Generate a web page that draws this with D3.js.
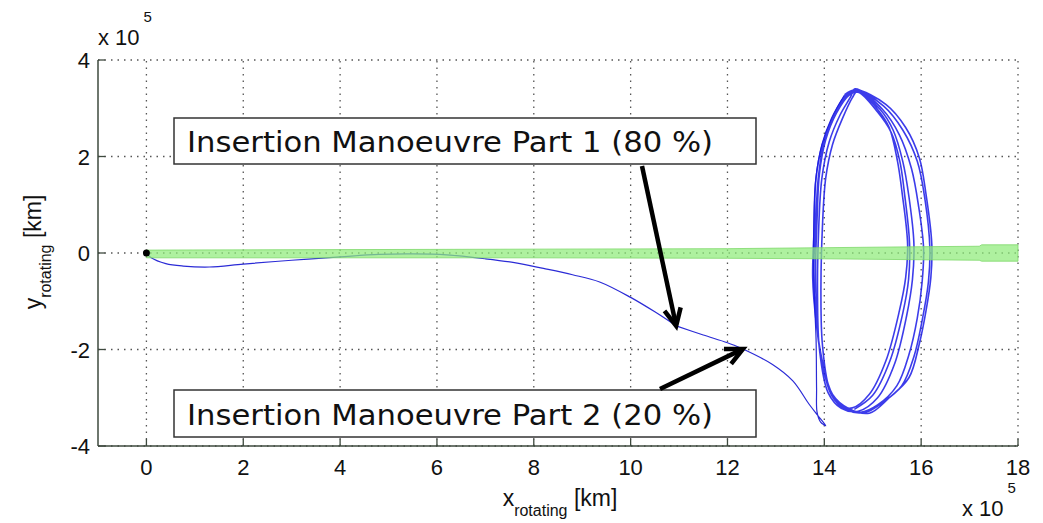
<!DOCTYPE html>
<html>
<head>
<meta charset="utf-8">
<script src="https://cdn.jsdelivr.net/npm/d3@7"></script>
<style>
  body { margin: 0; background: #fff; }
  svg { display: block; }
</style>
</head>
<body>
<svg id="chart"></svg>
<script>
const width = 1043;
const height = 523;

// tick values (units of 10^5 km)
const xTicks = [0, 2, 4, 6, 8, 10, 12, 14, 16, 18];
const yTicks = [-4, -2, 0, 2, 4];

// green band (corridor) along y = 0
const bandX = [0, 4, 8, 12, 14, 16, 17.2, 17.25, 18];
const bandTop = [0.06, 0.07, 0.08, 0.09, 0.11, 0.13, 0.14, 0.17, 0.17];
const bandBottom = [-0.10, -0.10, -0.10, -0.11, -0.12, -0.14, -0.15, -0.17, -0.17];

// transfer trajectory, split at the two manoeuvres
const coast1 = [[0, 0], [0.1, -0.1], [0.4, -0.22], [0.76, -0.27], [1.3, -0.29], [2.0, -0.23], [3.0, -0.15], [4.0, -0.08],
    [4.8, -0.03], [5.5, -0.02], [6.2, -0.04], [7.0, -0.12], [7.6, -0.2], [8.2, -0.32], [8.8, -0.45], [9.36, -0.6],
    [10.0, -0.92], [10.5, -1.22], [10.94, -1.51]];
const coast2 = [[10.94, -1.51], [11.5, -1.7], [12.0, -1.86], [12.32, -1.99]];
const coast3 = [[12.32, -1.99], [12.93, -2.31], [13.35, -2.65], [13.69, -3.14], [13.9, -3.41], [14.03, -3.58],
    [13.92, -3.5], [13.85, -3.3], [13.84, -2.8], [13.83, -1.8], [13.79, -0.8], [13.78, 0.4], [13.82, 1.5],
    [13.95, 2.25], [14.15, 2.8], [14.42, 3.28]];

// halo orbit revolutions (clockwise, starting at the top)
const loop1 = [[14.65, 3.38], [15.27, 3.08], [15.68, 2.60], [15.96, 1.98], [16.10, 1.22], [16.22, 0.18], [16.20, -0.51],
    [16.10, -1.20], [15.96, -1.89], [15.75, -2.58], [15.34, -3.00], [14.93, -3.32], [14.50, -3.22], [14.17, -2.93],
    [13.96, -2.24], [13.83, -1.41], [13.76, -0.51], [13.79, 0.52], [13.83, 1.56], [13.96, 2.25], [14.17, 2.80], [14.45, 3.27]];
const loop2 = [[14.70, 3.36], [15.20, 2.98], [15.55, 2.45], [15.80, 1.75], [15.95, 0.95], [16.05, 0.10], [16.02, -0.60],
    [15.92, -1.35], [15.75, -2.10], [15.50, -2.75], [15.10, -3.15], [14.75, -3.30], [14.40, -3.20], [14.12, -2.85],
    [13.92, -2.10], [13.84, -1.20], [13.82, -0.30], [13.85, 0.70], [13.90, 1.65], [14.03, 2.35], [14.25, 2.90], [14.52, 3.28]];
const loop3 = [[14.72, 3.34], [15.13, 2.94], [15.34, 2.60], [15.51, 1.91], [15.61, 1.22], [15.72, 0.18], [15.68, -0.51],
    [15.55, -1.20], [15.27, -2.24], [14.93, -2.93], [14.58, -3.21], [14.31, -3.14], [14.10, -2.79], [13.96, -1.89],
    [13.93, -0.86], [13.96, 0.52], [14.03, 1.56], [14.17, 2.25], [14.38, 2.80], [14.58, 3.22]];
const loop4 = [[14.68, 3.35], [15.15, 2.98], [15.42, 2.55], [15.62, 1.90], [15.75, 1.15], [15.85, 0.20], [15.82, -0.55],
    [15.70, -1.30], [15.45, -2.30], [15.10, -3.00], [14.70, -3.28], [14.35, -3.22], [14.08, -2.90], [13.90, -2.00],
    [13.86, -0.90], [13.88, 0.40], [13.95, 1.55], [14.10, 2.30], [14.32, 2.85], [14.55, 3.25]];
const loop5 = [[14.62, 3.40], [15.22, 3.05], [15.62, 2.55], [15.92, 1.90], [16.08, 1.10], [16.18, 0.10], [16.15, -0.60],
    [16.02, -1.40], [15.85, -2.15], [15.60, -2.75], [15.20, -3.10], [14.85, -3.30], [14.45, -3.25], [14.15, -2.95],
    [13.95, -2.25], [13.82, -1.30], [13.78, -0.40], [13.82, 0.60], [13.88, 1.60], [14.00, 2.30], [14.22, 2.85], [14.50, 3.30]];
const loop6 = [[14.70, 3.33], [15.10, 2.92], [15.38, 2.50], [15.56, 1.90], [15.66, 1.20], [15.76, 0.20], [15.74, -0.55],
    [15.62, -1.25], [15.35, -2.25], [15.00, -2.95], [14.62, -3.24]];

const manoeuvres = [
    { label: "Insertion Manoeuvre Part 1 (80 %)", point: [10.94, -1.51] },
    { label: "Insertion Manoeuvre Part 2 (20 %)", point: [12.32, -1.99] }
];

const svg = d3.select("#chart").attr("width", width).attr("height", height);

const x = d3.scaleLinear().domain([-1, 18]).range([98, 1018]);
const y = d3.scaleLinear().domain([-4, 4]).range([446, 60]);

const axisColor = "#3e4a3e";
const fontAxis = "'Liberation Sans', Arial, sans-serif";

// dotted grid
svg.append("g").selectAll("line").data(xTicks).enter().append("line")
    .attr("x1", d => x(d)).attr("x2", d => x(d)).attr("y1", y(-4)).attr("y2", y(4))
    .attr("stroke", "#555").attr("stroke-width", 1.3).attr("stroke-dasharray", "1.5,5");
svg.append("g").selectAll("line").data(yTicks).enter().append("line")
    .attr("x1", x(-1)).attr("x2", x(18)).attr("y1", d => y(d)).attr("y2", d => y(d))
    .attr("stroke", "#555").attr("stroke-width", 1.3).attr("stroke-dasharray", "1.5,5");

// trajectory
const line = d3.line().x(d => x(d[0])).y(d => y(d[1])).curve(d3.curveCatmullRom.alpha(0.5));
const orbit = [loop1, loop2, loop3, loop4, loop5, loop6];
const orbitPath = [].concat(coast3.slice(-1), ...orbit);

[coast1, coast2, coast3].forEach(seg => {
    svg.append("path").attr("d", line(seg)).attr("fill", "none")
        .attr("stroke", "#2b2bd6").attr("stroke-width", 1.2);
});
svg.append("path").attr("d", line(orbitPath)).attr("fill", "none")
    .attr("stroke", "#1a1ae6").attr("stroke-width", 1.6).attr("stroke-opacity", 0.85);

// green band on top, semi transparent
const band = bandX.map((d, i) => ({ x: d, top: bandTop[i], bottom: bandBottom[i] }));
svg.append("path")
    .attr("d", d3.area().x(d => x(d.x)).y0(d => y(d.bottom)).y1(d => y(d.top))(band))
    .attr("fill", "#8fec7a").attr("fill-opacity", 0.72)
    .attr("stroke", "#7ed86a").attr("stroke-width", 0.8);

// start point
svg.append("circle").attr("cx", x(0)).attr("cy", y(0)).attr("r", 3.5).attr("fill", "#000");

// axes: only left and bottom are solid, ticks inward
svg.append("line").attr("x1", x(-1)).attr("x2", x(18)).attr("y1", y(-4)).attr("y2", y(-4))
    .attr("stroke", axisColor).attr("stroke-width", 1.5);
svg.append("line").attr("x1", x(-1)).attr("x2", x(-1)).attr("y1", y(-4)).attr("y2", y(4))
    .attr("stroke", axisColor).attr("stroke-width", 1.5);
svg.append("g").selectAll("line").data(xTicks).enter().append("line")
    .attr("x1", d => x(d)).attr("x2", d => x(d)).attr("y1", y(-4)).attr("y2", y(-4) - 7)
    .attr("stroke", axisColor).attr("stroke-width", 1.3);
svg.append("g").selectAll("line").data(yTicks).enter().append("line")
    .attr("x1", x(-1)).attr("x2", x(-1) + 7).attr("y1", d => y(d)).attr("y2", d => y(d))
    .attr("stroke", axisColor).attr("stroke-width", 1.3);

svg.append("g").selectAll("text").data(xTicks).enter().append("text")
    .attr("x", d => x(d)).attr("y", 475).attr("text-anchor", "middle")
    .style("font-family", fontAxis).style("font-size", "22px").attr("fill", "#111")
    .text(d => d);
svg.append("g").selectAll("text").data(yTicks).enter().append("text")
    .attr("x", 90).attr("y", d => y(d) + 8).attr("text-anchor", "end")
    .style("font-family", fontAxis).style("font-size", "22px").attr("fill", "#111")
    .text(d => d);

// exponent labels
function exponent(px, py) {
    const t = svg.append("text").attr("x", px).attr("y", py)
        .style("font-family", fontAxis).style("font-size", "22px").attr("fill", "#111");
    t.append("tspan").text("x 10");
    t.append("tspan").attr("dy", -23).attr("dx", 4).style("font-size", "15px").text("5");
}
exponent(98, 45);
exponent(962, 516);

// axis titles
const xt = svg.append("text").attr("x", 560).attr("y", 506).attr("text-anchor", "middle")
    .style("font-family", fontAxis).style("font-size", "23px").attr("fill", "#111");
xt.append("tspan").text("x");
xt.append("tspan").attr("dy", 10).style("font-size", "16px").text("rotating");
xt.append("tspan").attr("dy", -10).text(" [km]");

const yt = svg.append("text").attr("transform", "translate(41,252) rotate(-90)").attr("text-anchor", "middle")
    .style("font-family", fontAxis).style("font-size", "23px").attr("fill", "#111");
yt.append("tspan").text("y");
yt.append("tspan").attr("dy", 10).style("font-size", "16px").text("rotating");
yt.append("tspan").attr("dy", -10).text(" [km]");

// annotation boxes and arrows
const boxes = [
    { x0: 174, y0: 118, x1: 756, y1: 164, tail: [642, 166] },
    { x0: 174, y0: 390, x1: 756, y1: 437, tail: [660, 389] }
];

manoeuvres.forEach((m, i) => {
    const b = boxes[i];
    svg.append("rect").attr("x", b.x0).attr("y", b.y0).attr("width", b.x1 - b.x0).attr("height", b.y1 - b.y0)
        .attr("fill", "#fff").attr("stroke", "#333").attr("stroke-width", 1.5);
    svg.append("text").attr("x", b.x0 + 13).attr("y", b.y1 - 12)
        .attr("textLength", 526).attr("lengthAdjust", "spacingAndGlyphs")
        .style("font-family", "'DejaVu Sans', Verdana, sans-serif").style("font-size", "28px").attr("fill", "#111")
        .text(m.label);

    const tx = x(m.point[0]), ty = y(m.point[1]);
    const [sx, sy] = b.tail;
    const ang = Math.atan2(ty - sy, tx - sx);
    const head = 19, spread = 0.45;
    svg.append("line").attr("x1", sx).attr("y1", sy).attr("x2", tx - Math.cos(ang) * 2).attr("y2", ty - Math.sin(ang) * 2)
        .attr("stroke", "#000").attr("stroke-width", 4.5);
    svg.append("path")
        .attr("d", `M${tx - head * Math.cos(ang - spread)},${ty - head * Math.sin(ang - spread)} L${tx},${ty} L${tx - head * Math.cos(ang + spread)},${ty - head * Math.sin(ang + spread)}`)
        .attr("fill", "none").attr("stroke", "#000").attr("stroke-width", 4.5).attr("stroke-linejoin", "miter");
});
</script>
</body>
</html>
